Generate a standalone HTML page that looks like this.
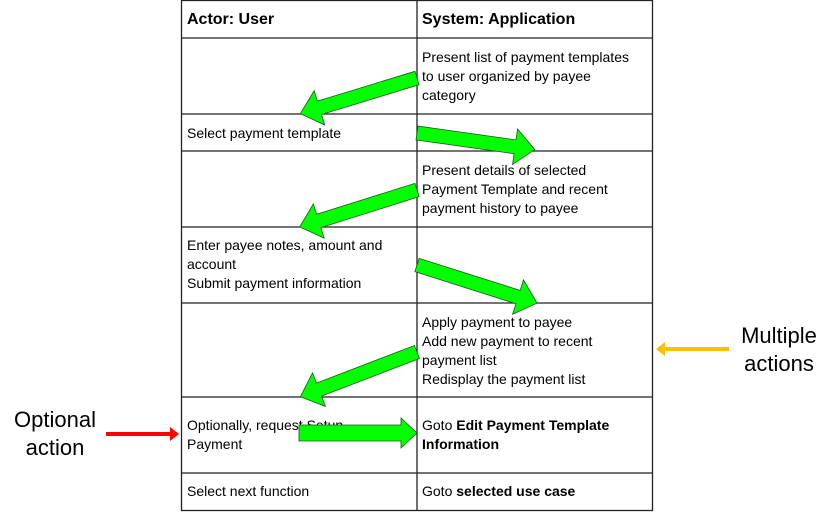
<!DOCTYPE html>
<html><head><meta charset="utf-8"><style>
html,body{margin:0;padding:0;background:#fff;}
svg{display:block;font-family:"Liberation Sans",sans-serif;}
</style></head><body>
<svg width="834" height="512" viewBox="0 0 834 512" xmlns="http://www.w3.org/2000/svg">
<g stroke="#222" stroke-width="1.3" fill="none">
<rect x="181.5" y="0.5" width="471" height="510"/>
<line x1="417" y1="0" x2="417" y2="511"/>
<line x1="181" y1="38" x2="653" y2="38"/>
<line x1="181" y1="114" x2="653" y2="114"/>
<line x1="181" y1="151" x2="653" y2="151"/>
<line x1="181" y1="227" x2="653" y2="227"/>
<line x1="181" y1="303" x2="653" y2="303"/>
<line x1="181" y1="397" x2="653" y2="397"/>
<line x1="181" y1="473" x2="653" y2="473"/>
</g>
<g font-size="16" font-weight="bold" fill="#000">
<text x="187" y="24">Actor: User</text>
<text x="422" y="24">System: Application</text>
</g>
<g font-size="14" fill="#000">
<text x="422" y="62">Present list of payment templates</text>
<text x="422" y="81">to user organized by payee</text>
<text x="422" y="100">category</text>
<text x="187" y="138">Select payment template</text>
<text x="422" y="175">Present details of selected</text>
<text x="422" y="194">Payment Template and recent</text>
<text x="422" y="213">payment history to payee</text>
<text x="187" y="250">Enter payee notes, amount and</text>
<text x="187" y="269">account</text>
<text x="187" y="288">Submit payment information</text>
<text x="422" y="327">Apply payment to payee</text>
<text x="422" y="346">Add new payment to recent</text>
<text x="422" y="365">payment list</text>
<text x="422" y="384">Redisplay the payment list</text>
<text x="187" y="430">Optionally, request Setup</text>
<text x="187" y="449">Payment</text>
<text x="422" y="430">Goto <tspan font-weight="bold">Edit Payment Template</tspan></text>
<text x="422" y="449" font-weight="bold">Information</text>
<text x="187" y="496">Select next function</text>
<text x="422" y="496">Goto <tspan font-weight="bold">selected use case</tspan></text>
</g>
<g fill="#00ff00" stroke="#1a5a1a" stroke-width="0.8">
<polygon transform="translate(417,78) rotate(163)" points="0,-7 102,-7 102,-18 122,0 102,18 102,7 0,7"/>
<polygon transform="translate(417,133) rotate(8)" points="0,-7 99,-7 99,-18 119,0 99,18 99,7 0,7"/>
<polygon transform="translate(417,190) rotate(162.5)" points="0,-7 103,-7 103,-18 123,0 103,18 103,7 0,7"/>
<polygon transform="translate(417,265) rotate(17.6)" points="0,-7 106,-7 106,-18 126,0 106,18 106,7 0,7"/>
<polygon transform="translate(417,352) rotate(159)" points="0,-7 105,-7 105,-18 125,0 105,18 105,7 0,7"/>
<polygon points="299,425 401,425 401,418 417,433 401,448 401,441 299,441"/>
</g>
<polygon fill="#ff0000" points="106,432 170,432 170,427 179,434 170,441 170,436 106,436"/>
<polygon fill="#ffc000" points="729,347 665,347 665,342 656,349 665,356 665,351 729,351"/>
<g font-size="22" fill="#000" text-anchor="middle">
<text x="55" y="427">Optional</text>
<text x="55" y="455">action</text>
<text x="779" y="343">Multiple</text>
<text x="779" y="371">actions</text>
</g>
</svg>
</body></html>
